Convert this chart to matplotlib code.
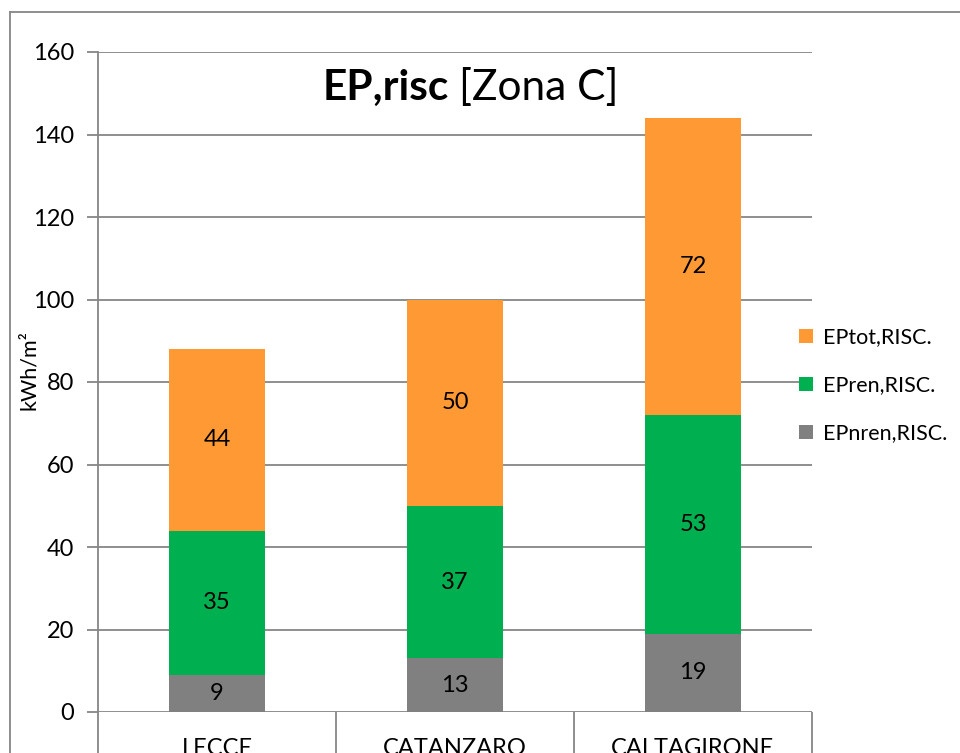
import matplotlib.pyplot as plt
from matplotlib.lines import Line2D
import numpy as np

# Dati
citta = ['LECCE', 'CATANZARO', 'CALTAGIRONE']
ep_nren = [9, 13, 19]
ep_ren = [35, 37, 53]
ep_tot = [44, 50, 72]

serie = ['EPnren,RISC.', 'EPren,RISC.', 'EPtot,RISC.']
colori = ['#808080', '#00B050', '#FF9933']

plt.rcParams['font.family'] = ['Lato', 'DejaVu Sans']
grigio = '#868686'

fig = plt.figure(figsize=(9.6, 7.53), dpi=100)
ax = fig.add_axes([98 / 960, 41 / 753, 714 / 960, 660 / 753])

x = np.arange(len(citta))
base = np.zeros(len(citta))
barre = []
for valori, nome, col in zip([ep_nren, ep_ren, ep_tot], serie, colori):
    b = ax.bar(x, valori, 0.4, bottom=base, color=col, label=nome, zorder=3)
    ax.bar_label(b, labels=[str(v) for v in valori], label_type='center',
                 fontsize=17, color='black')
    barre.append(b)
    base = base + np.array(valori)

ax.set_xlim(-0.5, 2.5)
ax.set_ylim(0, 160)
ax.set_yticks(range(0, 161, 20))
ax.grid(axis='y', color=grigio, linewidth=1.3, zorder=0)
ax.set_axisbelow(True)
for s in ['top', 'right', 'bottom']:
    ax.spines[s].set_visible(False)
ax.spines['left'].set_color(grigio)
ax.spines['left'].set_linewidth(1.3)
ax.tick_params(axis='y', length=8, width=1.3, color=grigio, labelsize=17, pad=9)
ax.set_xticks(x)
ax.set_xticklabels(citta, fontsize=17)
ax.tick_params(axis='x', length=0, pad=19)

# linee di separazione categorie
ax.vlines([-0.5, 0.5, 1.5, 2.5], -0.2, 0, transform=ax.get_xaxis_transform(),
          color=grigio, linewidth=1.3, clip_on=False)

fig.text(29 / 960, 1 - 370 / 753, 'kWh/m²', fontsize=15.5, rotation=90,
         ha='center', va='center')

# titolo: parte in grassetto + parte normale
t1 = fig.text(323 / 960, 1 - 88 / 753, 'EP,risc', fontsize=30.5, fontweight='bold',
              ha='left', va='center')
fig.canvas.draw()
bb = t1.get_window_extent()
fig.text((bb.x1 + 10) / 960, 1 - 88 / 753, '[Zona C]', fontsize=30.5,
         ha='left', va='center')

# legenda
handles = [barre[2], barre[1], barre[0]]
ax.legend(handles, [serie[2], serie[1], serie[0]], loc='center left',
          bbox_to_anchor=(0.955, 0.495), frameon=False, fontsize=15.5,
          handlelength=0.65, handleheight=0.65, handletextpad=0.45,
          labelspacing=1.3)

# bordo esterno del grafico
fig.add_artist(Line2D([10 / 960, 10 / 960], [0, 1 - 11.5 / 753],
                      transform=fig.transFigure, color=grigio, linewidth=1.3))
fig.add_artist(Line2D([10 / 960, 1], [1 - 11.5 / 753, 1 - 11.5 / 753],
                      transform=fig.transFigure, color=grigio, linewidth=1.3))

fig.savefig('out.png', dpi=100)
